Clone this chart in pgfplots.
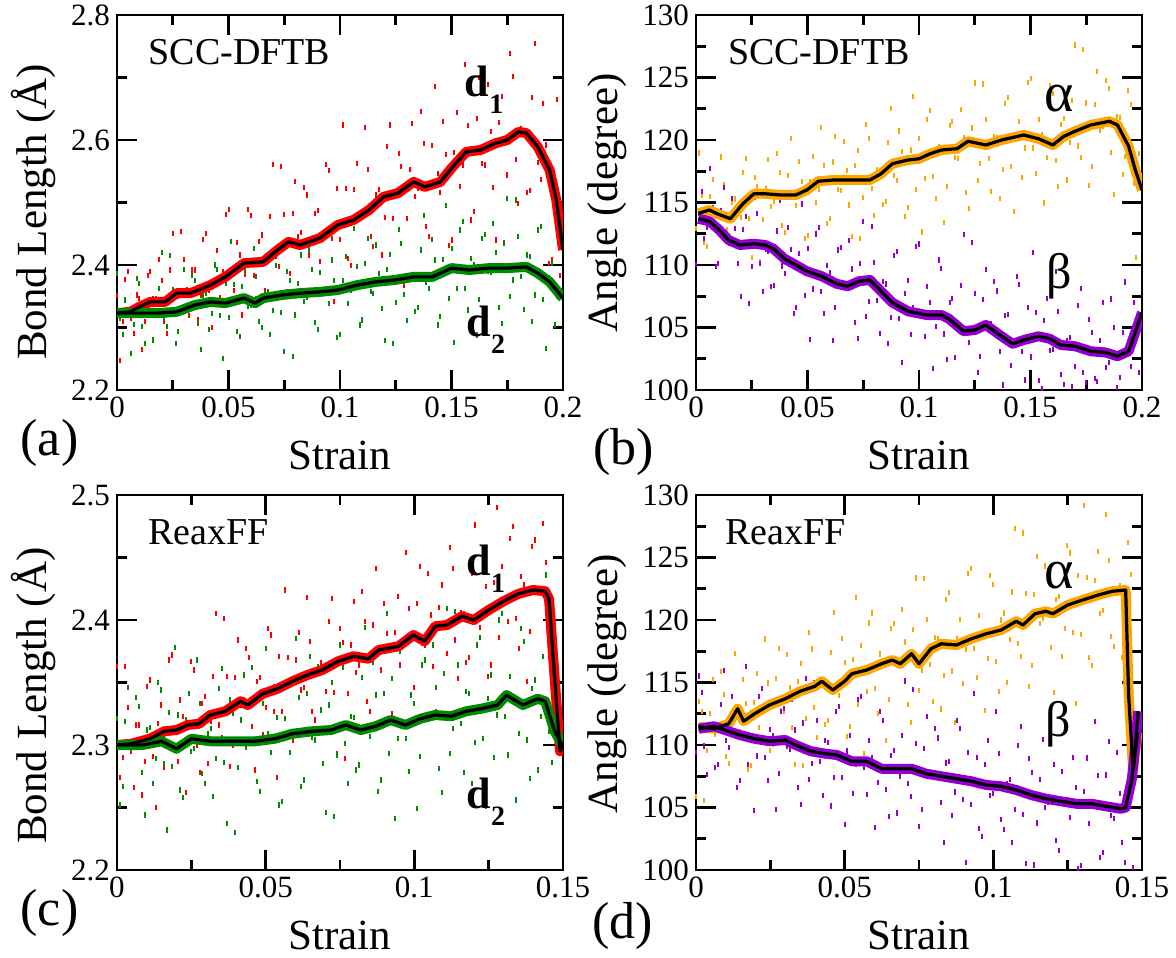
\documentclass[border=0pt]{standalone}
\usepackage{fontspec}
\setmainfont{Liberation Serif}
\usepackage{pgfplots}
\pgfplotsset{compat=1.18}
\definecolor{xred}{RGB}{255,0,0}
\definecolor{xgreen}{RGB}{0,139,0}
\definecolor{xorange}{RGB}{255,165,0}
\definecolor{xviolet}{RGB}{148,0,211}
\newcommand{\dlab}[1]{{\fontsize{22}{22}\selectfont\bfseries d}\raisebox{-8.5pt}{\fontsize{14}{14}\selectfont\bfseries #1}}
\newcommand{\lab}[1]{\fontsize{26}{28}\selectfont (#1)}
\tikzset{txt/.style={inner sep=0pt, anchor=base west}}
\pgfplotsset{
  panel/.style={
    width=223pt, height=187.5pt, scale only axis,
    clip mode=individual,
    axis line style={line width=1.3pt},
    every tick/.style={line width=1.3pt, black},
    major tick length=10pt, minor tick length=5pt,
    tick align=inside,
    scaled ticks=false,
    /pgf/number format/assume math mode=true,
    tick label style={font=\fontsize{15.5}{18}\selectfont},
    label style={font=\fontsize{21.5}{24}\selectfont},
    xlabel={Strain},
    xlabel style={at={(axis description cs:0.5,-0.175)},anchor=center},
  },
  sc/.style={only marks, mark=|, mark size=1.3pt, mark options={line width=1pt}},
  band/.style={no marks, line width=5pt, line join=round},
  avg/.style={no marks, black, line width=1.6pt, line join=round},
}
\begin{document}
\begin{tikzpicture}
\useasboundingbox (0,0) rectangle (588pt,-478.5pt);
% ---------------- (a)
\begin{axis}[panel, at={(58.5pt,-7.5pt)}, anchor=north west,
  xmin=0, xmax=0.2, ymin=2.2, ymax=2.8,
  xtick={0,0.05,0.1,0.15,0.2}, xticklabels={0,0.05,0.1,0.15,0.2},
  minor xtick={0.025,0.075,0.125,0.175},
  ytick={2.2,2.4,2.6,2.8}, yticklabels={2.2,2.4,2.6,2.8},
  minor ytick={2.3,2.5,2.7},
  ylabel={Bond Length (Å)},
  ylabel style={at={(axis description cs:-0.188,0.475)},anchor=center},
]
\addplot[sc, xred] coordinates {
(0,2.351)(0.0025,2.309)(0.005,2.389)(0.0075,2.291)(0.01,2.347)(0.0125,2.309)(0.015,2.390)(0.0175,2.347)(0.02,2.375)(0.0225,2.290)
(0.025,2.450)(0.0275,2.350)(0.03,2.409)(0.0325,2.319)(0.035,2.392)(0.0375,2.352)(0.04,2.450)(0.0425,2.300)(0.045,2.423)(0.0475,2.390)
(0.05,2.489)(0.0525,2.359)(0.055,2.416)(0.0575,2.385)(0.06,2.479)(0.0625,2.347)(0.065,2.448)(0.0675,2.415)(0.07,2.561)(0.0725,2.397)
(0.075,2.481)(0.0775,2.387)(0.08,2.534)(0.0825,2.452)(0.085,2.512)(0.0875,2.355)(0.09,2.487)(0.0925,2.445)(0.095,2.551)(0.0975,2.342)
(0.1,2.441)(0.1025,2.523)(0.105,2.399)(0.1075,2.563)(0.11,2.480)(0.1125,2.553)(0.115,2.430)(0.1175,2.521)(0.12,2.476)(0.1225,2.624)
(0.125,2.377)(0.1275,2.557)(0.13,2.474)(0.1325,2.627)(0.135,2.522)(0.1375,2.595)(0.14,2.446)(0.1425,2.685)(0.145,2.516)(0.1475,2.577)
(0.15,2.440)(0.1525,2.644)(0.155,2.560)(0.1575,2.623)(0.16,2.485)(0.1625,2.700)(0.165,2.560)(0.1675,2.614)(0.17,2.440)(0.1725,2.669)
(0.175,2.544)(0.1775,2.702)(0.18,2.499)(0.1825,2.614)(0.185,2.519)(0.1875,2.754)(0.19,2.537)(0.1925,2.592)(0.195,2.408)(0.1975,2.665)};
\addplot[sc, xred] coordinates {
(0.00125,2.247)(0.00375,2.377)(0.00625,2.315)(0.00875,2.352)(0.01125,2.265)(0.01375,2.383)(0.01625,2.347)(0.01875,2.409)(0.02125,2.309)(0.02375,2.392)
(0.02625,2.328)(0.02875,2.453)(0.03125,2.360)(0.03375,2.392)(0.03625,2.313)(0.03875,2.441)(0.04125,2.360)(0.04375,2.400)(0.04625,2.348)(0.04875,2.481)
(0.05125,2.393)(0.05375,2.436)(0.05625,2.320)(0.05875,2.489)(0.06125,2.383)(0.06375,2.438)(0.06625,2.359)(0.06875,2.477)(0.07125,2.413)(0.07375,2.558)
(0.07625,2.358)(0.07875,2.482)(0.08125,2.445)(0.08375,2.524)(0.08625,2.416)(0.08875,2.482)(0.09125,2.405)(0.09375,2.561)(0.09625,2.442)(0.09875,2.523)
(0.10125,2.624)(0.10375,2.410)(0.10625,2.521)(0.10875,2.475)(0.11125,2.620)(0.11375,2.445)(0.11625,2.512)(0.11875,2.416)(0.12125,2.589)(0.12375,2.475)
(0.12625,2.578)(0.12875,2.368)(0.13125,2.553)(0.13375,2.510)(0.13625,2.645)(0.13875,2.461)(0.14125,2.591)(0.14375,2.546)(0.14625,2.629)(0.14875,2.431)
(0.15125,2.580)(0.15375,2.525)(0.15625,2.721)(0.15875,2.472)(0.16125,2.634)(0.16375,2.562)(0.16625,2.689)(0.16875,2.524)(0.17125,2.628)(0.17375,2.436)
(0.17625,2.739)(0.17875,2.569)(0.18125,2.619)(0.18375,2.516)(0.18625,2.668)(0.18875,2.564)(0.19125,2.658)(0.19375,2.402)(0.19625,2.542)(0.19875,2.383)};
\addplot[sc, xgreen] coordinates {
(0,2.386)(0.0025,2.289)(0.005,2.329)(0.0075,2.305)(0.01,2.370)(0.0125,2.274)(0.015,2.344)(0.0175,2.319)(0.02,2.420)(0.0225,2.302)
(0.025,2.360)(0.0275,2.293)(0.03,2.393)(0.0325,2.335)(0.035,2.375)(0.0375,2.265)(0.04,2.354)(0.0425,2.323)(0.045,2.393)(0.0475,2.251)
(0.05,2.316)(0.0525,2.369)(0.055,2.285)(0.0575,2.392)(0.06,2.336)(0.0625,2.382)(0.065,2.300)(0.0675,2.357)(0.07,2.327)(0.0725,2.421)
(0.075,2.262)(0.0775,2.375)(0.08,2.320)(0.0825,2.416)(0.085,2.348)(0.0875,2.393)(0.09,2.297)(0.0925,2.446)(0.095,2.339)(0.0975,2.375)
(0.1,2.289)(0.1025,2.414)(0.105,2.360)(0.1075,2.398)(0.11,2.312)(0.1125,2.442)(0.115,2.355)(0.1175,2.386)(0.12,2.279)(0.1225,2.417)
(0.125,2.340)(0.1275,2.434)(0.13,2.311)(0.1325,2.381)(0.135,2.332)(0.1375,2.479)(0.14,2.362)(0.1425,2.408)(0.145,2.317)(0.1475,2.495)
(0.15,2.426)(0.1525,2.362)(0.155,2.469)(0.1575,2.328)(0.16,2.400)(0.1625,2.345)(0.165,2.449)(0.1675,2.388)(0.17,2.420)(0.1725,2.306)
(0.175,2.506)(0.1775,2.376)(0.18,2.446)(0.1825,2.329)(0.185,2.413)(0.1875,2.352)(0.19,2.461)(0.1925,2.267)(0.195,2.403)(0.1975,2.349)};
\addplot[sc, xgreen] coordinates {
(0.00125,2.315)(0.00375,2.344)(0.00625,2.258)(0.00875,2.379)(0.01125,2.301)(0.01375,2.338)(0.01625,2.280)(0.01875,2.362)(0.02125,2.315)(0.02375,2.415)
(0.02625,2.274)(0.02875,2.358)(0.03125,2.330)(0.03375,2.383)(0.03625,2.307)(0.03875,2.351)(0.04125,2.297)(0.04375,2.400)(0.04625,2.319)(0.04875,2.371)
(0.05125,2.437)(0.05375,2.293)(0.05625,2.365)(0.05875,2.333)(0.06125,2.427)(0.06375,2.310)(0.06625,2.353)(0.06875,2.289)(0.07125,2.399)(0.07375,2.324)
(0.07625,2.389)(0.07875,2.253)(0.08125,2.370)(0.08375,2.341)(0.08625,2.425)(0.08875,2.308)(0.09125,2.388)(0.09375,2.358)(0.09625,2.408)(0.09875,2.284)
(0.10125,2.375)(0.10375,2.339)(0.10625,2.459)(0.10875,2.304)(0.11125,2.402)(0.11375,2.357)(0.11625,2.432)(0.11875,2.331)(0.12125,2.393)(0.12375,2.275)
(0.12625,2.457)(0.12875,2.353)(0.13125,2.383)(0.13375,2.326)(0.13625,2.424)(0.13875,2.372)(0.14125,2.441)(0.14375,2.304)(0.14625,2.409)(0.14875,2.346)
(0.15125,2.276)(0.15375,2.456)(0.15625,2.363)(0.15875,2.410)(0.16125,2.288)(0.16375,2.443)(0.16625,2.390)(0.16875,2.467)(0.17125,2.332)(0.17375,2.435)
(0.17625,2.350)(0.17875,2.504)(0.18125,2.382)(0.18375,2.416)(0.18625,2.310)(0.18875,2.456)(0.19125,2.345)(0.19375,2.380)(0.19625,2.304)(0.19875,2.446)};
\addplot[band, xred] coordinates {
(0,2.323)(0.006,2.325)(0.010,2.333)(0.015,2.341)(0.0216,2.341)(0.0267,2.355)(0.033,2.355)(0.042,2.368)(0.0486,2.381)(0.057,2.403)
(0.0655,2.405)(0.072,2.424)(0.077,2.437)(0.082,2.432)(0.091,2.443)(0.099,2.464)(0.106,2.472)(0.113,2.488)(0.1195,2.509)(0.126,2.515)
(0.133,2.533)(0.138,2.525)(0.145,2.533)(0.150,2.555)(0.1566,2.581)(0.163,2.584)(0.170,2.595)(0.175,2.600)(0.180,2.613)(0.1836,2.611)
(0.1887,2.589)(0.194,2.552)(0.197,2.504)(0.2,2.424)};
\addplot[band, xgreen] coordinates {
(0,2.323)(0.0064,2.323)(0.018,2.323)(0.0267,2.325)(0.035,2.336)(0.042,2.341)(0.0486,2.339)(0.057,2.347)(0.062,2.339)(0.0655,2.347)
(0.074,2.352)(0.082,2.355)(0.091,2.357)(0.099,2.360)(0.108,2.368)(0.116,2.373)(0.1245,2.376)(0.133,2.381)(0.1414,2.381)(0.150,2.395)
(0.158,2.392)(0.1668,2.395)(0.175,2.395)(0.1836,2.397)(0.1887,2.387)(0.194,2.373)(0.2,2.347)};
\addplot[avg] coordinates {
(0,2.323)(0.006,2.325)(0.010,2.333)(0.015,2.341)(0.0216,2.341)(0.0267,2.355)(0.033,2.355)(0.042,2.368)(0.0486,2.381)(0.057,2.403)
(0.0655,2.405)(0.072,2.424)(0.077,2.437)(0.082,2.432)(0.091,2.443)(0.099,2.464)(0.106,2.472)(0.113,2.488)(0.1195,2.509)(0.126,2.515)
(0.133,2.533)(0.138,2.525)(0.145,2.533)(0.150,2.555)(0.1566,2.581)(0.163,2.584)(0.170,2.595)(0.175,2.600)(0.180,2.613)(0.1836,2.611)
(0.1887,2.589)(0.194,2.552)(0.197,2.504)(0.2,2.424)};
\addplot[avg] coordinates {
(0,2.323)(0.0064,2.323)(0.018,2.323)(0.0267,2.325)(0.035,2.336)(0.042,2.341)(0.0486,2.339)(0.057,2.347)(0.062,2.339)(0.0655,2.347)
(0.074,2.352)(0.082,2.355)(0.091,2.357)(0.099,2.360)(0.108,2.368)(0.116,2.373)(0.1245,2.376)(0.133,2.381)(0.1414,2.381)(0.150,2.395)
(0.158,2.392)(0.1668,2.395)(0.175,2.395)(0.1836,2.397)(0.1887,2.387)(0.194,2.373)(0.2,2.347)};
\node[txt] at (rel axis cs:0.07,0.867) {\fontsize{19}{20}\selectfont SCC-DFTB};
\node[txt] at (axis cs:0.1558,2.669) {\dlab{1}};
\node[txt] at (axis cs:0.1566,2.2853) {\dlab{2}};
\node[inner sep=0pt, anchor=west] at (axis description cs:-0.217,-0.141) {\lab{a}};
\end{axis}
% ---------------- (b)
\begin{axis}[panel, at={(348pt,-7.5pt)}, anchor=north west,
  xmin=0, xmax=0.2, ymin=100, ymax=130,
  xtick={0,0.05,0.1,0.15,0.2}, xticklabels={0,0.05,0.1,0.15,0.2},
  minor xtick={0.025,0.075,0.125,0.175},
  ytick={100,105,110,115,120,125,130}, yticklabels={100,105,110,115,120,125,130},
  minor ytick={102.5,107.5,112.5,117.5,122.5,127.5},
  ylabel={Angle (degree)},
  ylabel style={at={(axis description cs:-0.2,0.499)},anchor=center},
]
\addplot[sc, xorange] coordinates {
(0,112.90)(0.0025,115.60)(0.005,111.45)(0.0075,116.83)(0.01,114.07)(0.0125,116.43)(0.015,112.38)(0.0175,115.28)(0.02,113.80)(0.0225,118.54)
(0.025,110.58)(0.0275,116.31)(0.03,113.61)(0.0325,118.45)(0.035,115.09)(0.0375,117.37)(0.04,112.63)(0.0425,120.12)(0.045,114.79)(0.0475,116.66)
(0.05,112.38)(0.0525,118.67)(0.055,116.05)(0.0575,117.97)(0.06,113.71)(0.0625,120.26)(0.065,115.96)(0.0675,117.57)(0.07,112.26)(0.0725,119.18)
(0.075,115.37)(0.0775,120.11)(0.08,113.98)(0.0825,117.56)(0.085,115.11)(0.0875,122.50)(0.09,116.74)(0.0925,119.05)(0.095,114.57)(0.0975,123.48)
(0.1,120.10)(0.1025,116.94)(0.105,122.33)(0.1075,115.34)(0.11,118.99)(0.1125,116.27)(0.115,121.50)(0.1175,118.51)(0.12,120.16)(0.1225,114.51)
(0.125,124.56)(0.1275,118.09)(0.13,121.63)(0.1325,115.87)(0.135,120.23)(0.1375,117.64)(0.14,123.40)(0.1425,114.29)(0.145,121.45)(0.1475,119.36)
(0.15,124.95)(0.1525,117.33)(0.155,120.47)(0.1575,118.61)(0.16,123.74)(0.1625,116.26)(0.165,121.70)(0.1675,119.81)(0.17,127.60)(0.1725,118.57)
(0.175,122.96)(0.1775,117.87)(0.18,125.49)(0.1825,121.09)(0.185,124.11)(0.1875,115.61)(0.19,121.83)(0.1925,118.67)(0.195,122.86)(0.1975,110.62)};
\addplot[sc, xorange] coordinates {
(0.00125,118.96)(0.00375,111.82)(0.00625,115.45)(0.00875,113.91)(0.01125,118.64)(0.01375,112.86)(0.01625,115.02)(0.01875,111.87)(0.02125,117.43)(0.02375,113.72)
(0.02625,117.00)(0.02875,110.24)(0.03125,116.14)(0.03375,114.71)(0.03625,118.95)(0.03875,113.14)(0.04125,117.19)(0.04375,115.74)(0.04625,118.29)(0.04875,112.11)
(0.05125,116.70)(0.05375,114.98)(0.05625,121.00)(0.05875,113.32)(0.06125,118.24)(0.06375,116.02)(0.06625,119.85)(0.06875,114.80)(0.07125,117.95)(0.07375,112.13)
(0.07625,121.25)(0.07875,116.09)(0.08125,117.63)(0.08375,114.82)(0.08625,119.77)(0.08875,117.18)(0.09125,120.72)(0.09375,113.91)(0.09625,119.20)(0.09875,116.05)
(0.10125,112.64)(0.10375,121.64)(0.10625,117.07)(0.10875,119.45)(0.11125,113.42)(0.11375,121.19)(0.11625,118.59)(0.11875,122.44)(0.12125,115.78)(0.12375,120.96)
(0.12625,116.73)(0.12875,124.48)(0.13125,118.49)(0.13375,120.31)(0.13625,115.32)(0.13875,122.94)(0.14125,117.91)(0.14375,120.17)(0.14625,116.99)(0.14875,124.61)
(0.15125,119.36)(0.15375,121.66)(0.15625,114.96)(0.15875,124.38)(0.16125,118.33)(0.16375,121.22)(0.16625,116.80)(0.16875,123.13)(0.17125,119.52)(0.17375,127.21)
(0.17625,116.39)(0.17875,122.83)(0.18125,120.75)(0.18375,124.78)(0.18625,119.00)(0.18875,121.88)(0.19125,117.25)(0.19375,123.95)(0.19625,116.51)(0.19875,118.90)};
\addplot[sc, xviolet] coordinates {
(0,110.06)(0.0025,115.90)(0.005,113.03)(0.0075,114.59)(0.01,110.12)(0.0125,116.19)(0.015,111.69)(0.0175,112.94)(0.02,107.48)(0.0225,113.88)
(0.025,109.88)(0.0275,114.15)(0.03,107.91)(0.0325,111.06)(0.035,108.38)(0.0375,115.20)(0.04,109.34)(0.0425,111.25)(0.045,106.63)(0.0475,114.88)
(0.05,111.32)(0.0525,108.08)(0.055,113.03)(0.0575,106.12)(0.06,109.41)(0.0625,106.60)(0.065,111.39)(0.0675,108.31)(0.07,109.68)(0.0725,104.09)
(0.075,113.45)(0.0775,107.08)(0.08,110.23)(0.0825,104.55)(0.085,108.48)(0.0875,105.82)(0.09,111.06)(0.0925,102.22)(0.095,108.79)(0.0975,106.60)
(0.1,111.68)(0.1025,104.27)(0.105,107.02)(0.1075,105.06)(0.11,109.69)(0.1125,102.43)(0.115,107.34)(0.1175,105.36)(0.12,112.47)(0.1225,103.77)
(0.125,107.69)(0.1275,102.70)(0.13,109.64)(0.1325,105.30)(0.135,107.92)(0.1375,100.40)(0.14,106.05)(0.1425,103.71)(0.145,108.45)(0.1475,100.80)
(0.15,102.64)(0.1525,106.17)(0.155,100.13)(0.1575,107.35)(0.16,103.27)(0.1625,106.28)(0.165,100.45)(0.1675,104.19)(0.17,101.91)(0.1725,108.14)
(0.175,100.60)(0.1775,104.59)(0.18,100.68)(0.1825,106.99)(0.185,102.19)(0.1875,105.01)(0.19,101.00)(0.1925,108.64)(0.195,101.86)(0.1975,105.25)};
\addplot[sc, xviolet] coordinates {
(0.00125,114.13)(0.00375,112.14)(0.00625,117.70)(0.00875,109.90)(0.01125,114.38)(0.01375,111.91)(0.01625,115.31)(0.01875,110.10)(0.02125,112.84)(0.02375,106.89)
(0.02625,115.41)(0.02875,110.11)(0.03125,111.28)(0.03375,108.26)(0.03625,112.72)(0.03875,109.92)(0.04125,113.01)(0.04375,106.15)(0.04625,110.92)(0.04875,107.59)
(0.05125,104.05)(0.05375,112.48)(0.05625,107.89)(0.05875,109.95)(0.06125,103.97)(0.06375,111.20)(0.06625,108.50)(0.06875,111.97)(0.07125,105.40)(0.07375,110.13)
(0.07625,105.89)(0.07875,113.05)(0.08125,107.14)(0.08375,108.67)(0.08625,103.72)(0.08875,110.73)(0.09125,105.75)(0.09375,107.69)(0.09625,104.47)(0.09875,111.47)
(0.10125,106.29)(0.10375,108.26)(0.10625,101.71)(0.10875,110.40)(0.11125,104.48)(0.11375,107.00)(0.11625,102.62)(0.11875,108.37)(0.12125,104.77)(0.12375,111.79)
(0.12625,101.41)(0.12875,107.25)(0.13125,105.09)(0.13375,108.66)(0.13625,103.06)(0.13875,105.97)(0.14125,101.98)(0.14375,109.06)(0.14625,103.11)(0.14875,106.62)
(0.15125,110.99)(0.15375,100.76)(0.15625,105.57)(0.15875,103.19)(0.16125,109.47)(0.16375,101.23)(0.16625,103.96)(0.16875,100.30)(0.17125,106.75)(0.17375,101.43)
(0.17625,105.66)(0.17875,100.90)(0.18125,103.98)(0.18375,101.81)(0.18625,107.28)(0.18875,100.20)(0.19125,104.58)(0.19375,102.90)(0.19625,106.99)(0.19875,101.40)};
\addplot[band, xorange] coordinates {
(0.001,114.13)(0.006,114.4)(0.0095,114.1)(0.0154,113.7)(0.021,114.9)(0.026,115.7)(0.031,115.7)(0.038,115.6)(0.0447,115.6)(0.0497,116.0)
(0.0548,116.7)(0.0615,116.8)(0.070,116.8)(0.078,116.8)(0.083,117.3)(0.088,118.1)(0.095,118.4)(0.100,118.5)(0.105,118.9)(0.110,119.2)
(0.117,119.3)(0.122,119.9)(0.130,119.6)(0.137,120.0)(0.147,120.4)(0.1536,120.1)(0.160,119.6)(0.165,120.3)(0.170,120.7)(0.177,121.2)
(0.1854,121.5)(0.189,121.2)(0.194,119.5)(0.197,117.6)(0.2,116.0)};
\addplot[band, xviolet] coordinates {
(0.001,113.7)(0.006,113.5)(0.0104,112.8)(0.0146,112.0)(0.0196,111.6)(0.026,111.7)(0.031,111.6)(0.0347,111.3)(0.0397,110.5)(0.0447,110.0)
(0.0497,109.5)(0.0564,109.1)(0.063,108.5)(0.068,108.3)(0.073,108.7)(0.078,108.8)(0.083,107.9)(0.088,107.0)(0.095,106.3)(0.1034,106.0)
(0.110,106.0)(0.1134,105.7)(0.120,104.7)(0.125,104.8)(0.130,105.2)(0.137,104.3)(0.142,103.7)(0.147,104.0)(0.1536,104.3)(0.1586,104.1)
(0.1636,103.6)(0.170,103.5)(0.177,103.1)(0.1837,103.0)(0.189,102.7)(0.194,103.1)(0.2,106.2)};
\addplot[avg] coordinates {
(0.001,114.13)(0.006,114.4)(0.0095,114.1)(0.0154,113.7)(0.021,114.9)(0.026,115.7)(0.031,115.7)(0.038,115.6)(0.0447,115.6)(0.0497,116.0)
(0.0548,116.7)(0.0615,116.8)(0.070,116.8)(0.078,116.8)(0.083,117.3)(0.088,118.1)(0.095,118.4)(0.100,118.5)(0.105,118.9)(0.110,119.2)
(0.117,119.3)(0.122,119.9)(0.130,119.6)(0.137,120.0)(0.147,120.4)(0.1536,120.1)(0.160,119.6)(0.165,120.3)(0.170,120.7)(0.177,121.2)
(0.1854,121.5)(0.189,121.2)(0.194,119.5)(0.197,117.6)(0.2,116.0)};
\addplot[avg] coordinates {
(0.001,113.7)(0.006,113.5)(0.0104,112.8)(0.0146,112.0)(0.0196,111.6)(0.026,111.7)(0.031,111.6)(0.0347,111.3)(0.0397,110.5)(0.0447,110.0)
(0.0497,109.5)(0.0564,109.1)(0.063,108.5)(0.068,108.3)(0.073,108.7)(0.078,108.8)(0.083,107.9)(0.088,107.0)(0.095,106.3)(0.1034,106.0)
(0.110,106.0)(0.1134,105.7)(0.120,104.7)(0.125,104.8)(0.130,105.2)(0.137,104.3)(0.142,103.7)(0.147,104.0)(0.1536,104.3)(0.1586,104.1)
(0.1636,103.6)(0.170,103.5)(0.177,103.1)(0.1837,103.0)(0.189,102.7)(0.194,103.1)(0.2,106.2)};
\node[txt] at (rel axis cs:0.071,0.867) {\fontsize{19}{20}\selectfont SCC-DFTB};
\node[txt] at (axis cs:0.1561,122.27) {\fontsize{28}{28}\selectfont α};
\node[txt] at (axis cs:0.1568,108.1) {\fontsize{25}{25}\selectfont β};
\node[inner sep=0pt, anchor=west] at (axis description cs:-0.231,-0.165) {\lab{b}};
\end{axis}
% ---------------- (c)
\begin{axis}[panel, at={(58.5pt,-247.5pt)}, anchor=north west,
  xmin=0, xmax=0.15, ymin=2.2, ymax=2.5,
  xtick={0,0.05,0.1,0.15}, xticklabels={0,0.05,0.1,0.15},
  minor xtick={0.025,0.075,0.125},
  ytick={2.2,2.3,2.4,2.5}, yticklabels={2.2,2.3,2.4,2.5},
  minor ytick={2.25,2.35,2.45},
  ylabel={Bond Length (Å)},
  ylabel style={at={(axis description cs:-0.188,0.465)},anchor=center},
]
\addplot[sc, xred] coordinates {
(0,2.363)(0.00185,2.290)(0.0037,2.330)(0.00555,2.266)(0.0074,2.316)(0.00925,2.287)(0.0111,2.352)(0.01295,2.250)(0.0148,2.332)(0.01665,2.309)
(0.0185,2.372)(0.02035,2.287)(0.0222,2.323)(0.02405,2.303)(0.0259,2.360)(0.02775,2.278)(0.0296,2.339)(0.03145,2.319)(0.0333,2.405)(0.03515,2.306)
(0.037,2.355)(0.03885,2.300)(0.0407,2.384)(0.04255,2.336)(0.0444,2.370)(0.04625,2.280)(0.0481,2.354)(0.04995,2.330)(0.0518,2.388)(0.05365,2.274)
(0.0555,2.327)(0.05735,2.370)(0.0592,2.304)(0.06105,2.390)(0.0629,2.346)(0.06475,2.383)(0.0666,2.320)(0.06845,2.366)(0.0703,2.343)(0.07215,2.417)
(0.074,2.293)(0.07585,2.382)(0.0777,2.341)(0.07955,2.415)(0.0814,2.364)(0.08325,2.399)(0.0851,2.327)(0.08695,2.441)(0.0888,2.360)(0.09065,2.389)
(0.0925,2.325)(0.09435,2.419)(0.0962,2.380)(0.09805,2.409)(0.0999,2.346)(0.10175,2.443)(0.1036,2.380)(0.10545,2.404)(0.1073,2.327)(0.10915,2.428)
(0.111,2.373)(0.11285,2.441)(0.1147,2.353)(0.11655,2.405)(0.1184,2.370)(0.12025,2.476)(0.1221,2.394)(0.12395,2.427)(0.1258,2.364)(0.12765,2.490)
(0.1295,2.443)(0.13135,2.399)(0.1332,2.475)(0.13505,2.377)(0.1369,2.428)(0.13875,2.391)(0.1406,2.464)(0.14245,2.423)(0.1443,2.446)(0.14615,2.349)};
\addplot[sc, xred] coordinates {
(0.0009,2.274)(0.0028,2.363)(0.0046,2.295)(0.0065,2.316)(0.0083,2.260)(0.0102,2.347)(0.0120,2.291)(0.0139,2.317)(0.0157,2.282)(0.0176,2.368)
(0.0194,2.310)(0.0213,2.336)(0.0231,2.262)(0.0250,2.367)(0.0268,2.300)(0.0287,2.333)(0.0305,2.285)(0.0324,2.355)(0.0342,2.316)(0.0361,2.401)
(0.0379,2.283)(0.0398,2.354)(0.0416,2.332)(0.0435,2.377)(0.0453,2.315)(0.0472,2.351)(0.0490,2.308)(0.0509,2.393)(0.0527,2.327)(0.0546,2.371)
(0.0564,2.424)(0.0583,2.310)(0.0601,2.368)(0.0620,2.344)(0.0638,2.418)(0.0657,2.327)(0.0675,2.361)(0.0694,2.312)(0.0712,2.399)(0.0731,2.342)
(0.0749,2.393)(0.0768,2.289)(0.0786,2.380)(0.0805,2.358)(0.0823,2.423)(0.0842,2.335)(0.0860,2.396)(0.0879,2.375)(0.0897,2.413)(0.0916,2.320)
(0.0934,2.390)(0.0953,2.364)(0.0971,2.454)(0.0990,2.340)(0.1008,2.413)(0.1027,2.381)(0.1045,2.437)(0.1064,2.363)(0.1082,2.410)(0.1101,2.325)
(0.1119,2.458)(0.1138,2.384)(0.1156,2.406)(0.1175,2.366)(0.1193,2.437)(0.1212,2.400)(0.1230,2.451)(0.1249,2.355)(0.1267,2.430)(0.1286,2.386)
(0.1304,2.338)(0.1323,2.465)(0.1341,2.401)(0.1360,2.435)(0.1378,2.351)(0.1397,2.459)(0.1415,2.424)(0.1434,2.477)(0.1452,2.377)(0.1471,2.397)};
\addplot[sc, xgreen] coordinates {
(0,2.321)(0.00185,2.267)(0.0037,2.346)(0.00555,2.300)(0.0074,2.331)(0.00925,2.244)(0.0111,2.314)(0.01295,2.289)(0.0148,2.344)(0.01665,2.232)
(0.0185,2.283)(0.02035,2.324)(0.0222,2.258)(0.02405,2.341)(0.0259,2.297)(0.02775,2.333)(0.0296,2.269)(0.03145,2.313)(0.0333,2.289)(0.03515,2.361)
(0.037,2.237)(0.03885,2.325)(0.0407,2.282)(0.04255,2.356)(0.0444,2.303)(0.04625,2.337)(0.0481,2.263)(0.04995,2.377)(0.0518,2.294)(0.05365,2.322)
(0.0555,2.255)(0.05735,2.351)(0.0592,2.310)(0.06105,2.338)(0.0629,2.272)(0.06475,2.371)(0.0666,2.304)(0.06845,2.328)(0.0703,2.246)(0.07215,2.350)
(0.074,2.292)(0.07585,2.362)(0.0777,2.269)(0.07955,2.322)(0.0814,2.284)(0.08325,2.394)(0.0851,2.307)(0.08695,2.340)(0.0888,2.272)(0.09065,2.405)
(0.0925,2.353)(0.09435,2.305)(0.0962,2.384)(0.09805,2.279)(0.0999,2.333)(0.10175,2.291)(0.1036,2.368)(0.10545,2.323)(0.1073,2.346)(0.10915,2.262)
(0.111,2.409)(0.11285,2.313)(0.1147,2.364)(0.11655,2.278)(0.1184,2.341)(0.12025,2.302)(0.1221,2.386)(0.12395,2.251)(0.1258,2.356)(0.12765,2.324)
(0.1295,2.405)(0.13135,2.292)(0.1332,2.337)(0.13505,2.309)(0.1369,2.383)(0.13875,2.273)(0.1406,2.352)(0.14245,2.323)(0.1443,2.436)(0.14615,2.286)};
\addplot[sc, xgreen] coordinates {
(0.0009,2.252)(0.0028,2.319)(0.0046,2.297)(0.0065,2.338)(0.0083,2.278)(0.0102,2.312)(0.0120,2.269)(0.0139,2.350)(0.0157,2.285)(0.0176,2.326)
(0.0194,2.378)(0.0213,2.264)(0.0231,2.320)(0.0250,2.295)(0.0268,2.368)(0.0287,2.277)(0.0305,2.309)(0.0324,2.259)(0.0342,2.345)(0.0361,2.286)
(0.0379,2.336)(0.0398,2.230)(0.0416,2.320)(0.0435,2.298)(0.0453,2.362)(0.0472,2.271)(0.0490,2.333)(0.0509,2.309)(0.0527,2.347)(0.0546,2.252)
(0.0564,2.321)(0.0583,2.294)(0.0601,2.385)(0.0620,2.267)(0.0638,2.341)(0.0657,2.306)(0.0675,2.363)(0.0694,2.285)(0.0712,2.332)(0.0731,2.243)
(0.0749,2.380)(0.0768,2.301)(0.0786,2.323)(0.0805,2.280)(0.0823,2.354)(0.0842,2.314)(0.0860,2.366)(0.0879,2.263)(0.0897,2.341)(0.0916,2.293)
(0.0934,2.241)(0.0953,2.375)(0.0971,2.305)(0.0990,2.340)(0.1008,2.249)(0.1027,2.364)(0.1045,2.324)(0.1064,2.380)(0.1082,2.281)(0.1101,2.357)
(0.1119,2.293)(0.1138,2.407)(0.1156,2.317)(0.1175,2.343)(0.1193,2.269)(0.1212,2.380)(0.1230,2.305)(0.1249,2.337)(0.1267,2.290)(0.1286,2.400)
(0.1304,2.323)(0.1323,2.355)(0.1341,2.256)(0.1360,2.393)(0.1378,2.304)(0.1397,2.345)(0.1415,2.280)(0.1434,2.371)(0.1452,2.311)(0.1471,2.402)};
\addplot[band, xred] coordinates {
(0,2.300)(0.0048,2.301)(0.011,2.305)(0.016,2.311)(0.020,2.312)(0.0238,2.316)(0.0276,2.317)(0.0314,2.324)(0.0365,2.327)(0.0415,2.335)
(0.044,2.332)(0.049,2.341)(0.054,2.345)(0.059,2.351)(0.064,2.356)(0.069,2.360)(0.0744,2.367)(0.0795,2.371)(0.0846,2.369)(0.088,2.376)
(0.0947,2.379)(0.0997,2.388)(0.1035,2.383)(0.107,2.395)(0.111,2.396)(0.116,2.403)(0.120,2.400)(0.125,2.408)(0.130,2.415)(0.135,2.421)
(0.140,2.424)(0.144,2.423)(0.1453,2.417)(0.1472,2.353)(0.149,2.295)(0.15,2.300)};
\addplot[band, xgreen] coordinates {
(0,2.300)(0.0086,2.300)(0.015,2.303)(0.020,2.297)(0.025,2.305)(0.0314,2.303)(0.039,2.303)(0.0466,2.303)(0.053,2.305)(0.059,2.309)
(0.0656,2.311)(0.072,2.312)(0.077,2.316)(0.082,2.312)(0.087,2.315)(0.092,2.320)(0.097,2.316)(0.102,2.321)(0.107,2.324)(0.1124,2.323)
(0.1175,2.327)(0.1225,2.329)(0.128,2.332)(0.131,2.340)(0.1365,2.332)(0.1415,2.337)(0.144,2.335)(0.1472,2.311)(0.15,2.299)};
\addplot[avg] coordinates {
(0,2.300)(0.0048,2.301)(0.011,2.305)(0.016,2.311)(0.020,2.312)(0.0238,2.316)(0.0276,2.317)(0.0314,2.324)(0.0365,2.327)(0.0415,2.335)
(0.044,2.332)(0.049,2.341)(0.054,2.345)(0.059,2.351)(0.064,2.356)(0.069,2.360)(0.0744,2.367)(0.0795,2.371)(0.0846,2.369)(0.088,2.376)
(0.0947,2.379)(0.0997,2.388)(0.1035,2.383)(0.107,2.395)(0.111,2.396)(0.116,2.403)(0.120,2.400)(0.125,2.408)(0.130,2.415)(0.135,2.421)
(0.140,2.424)(0.144,2.423)(0.1453,2.417)(0.1472,2.353)(0.149,2.295)(0.15,2.300)};
\addplot[avg] coordinates {
(0,2.300)(0.0086,2.300)(0.015,2.303)(0.020,2.297)(0.025,2.305)(0.0314,2.303)(0.039,2.303)(0.0466,2.303)(0.053,2.305)(0.059,2.309)
(0.0656,2.311)(0.072,2.312)(0.077,2.316)(0.082,2.312)(0.087,2.315)(0.092,2.320)(0.097,2.316)(0.102,2.321)(0.107,2.324)(0.1124,2.323)
(0.1175,2.327)(0.1225,2.329)(0.128,2.332)(0.131,2.340)(0.1365,2.332)(0.1415,2.337)(0.144,2.335)(0.1472,2.311)(0.15,2.299)};
\node[txt] at (rel axis cs:0.07,0.867) {\fontsize{19}{20}\selectfont ReaxFF};
\node[txt] at (axis cs:0.1175,2.436) {\dlab{1}};
\node[txt] at (axis cs:0.1175,2.2493) {\dlab{2}};
\node[inner sep=0pt, anchor=west] at (axis description cs:-0.217,-0.115) {\lab{c}};
\end{axis}
% ---------------- (d)
\begin{axis}[panel, at={(348pt,-247.5pt)}, anchor=north west,
  xmin=0, xmax=0.15, ymin=100, ymax=130,
  xtick={0,0.05,0.1,0.15}, xticklabels={0,0.05,0.1,0.15},
  minor xtick={0.025,0.075,0.125},
  ytick={100,105,110,115,120,125,130}, yticklabels={100,105,110,115,120,125,130},
  minor ytick={102.5,107.5,112.5,117.5,122.5,127.5},
  ylabel={Angle (degree)},
  ylabel style={at={(axis description cs:-0.2,0.496)},anchor=center},
]
\addplot[sc, xorange] coordinates {
(0,105.90)(0.00185,112.67)(0.0037,109.53)(0.00555,115.25)(0.0074,111.32)(0.00925,114.02)(0.0111,108.50)(0.01295,117.30)(0.0148,111.09)(0.01665,113.32)
(0.0185,108.34)(0.02035,115.72)(0.0222,112.69)(0.02405,114.96)(0.0259,110.02)(0.02775,117.69)(0.0296,112.70)(0.03145,114.61)(0.0333,108.46)(0.03515,116.54)
(0.037,112.14)(0.03885,117.68)(0.0407,110.59)(0.04255,114.77)(0.0444,111.96)(0.04625,120.57)(0.0481,113.93)(0.04995,116.63)(0.0518,111.47)(0.05365,121.81)
(0.0555,117.93)(0.05735,114.31)(0.0592,120.56)(0.06105,112.53)(0.0629,116.77)(0.06475,113.66)(0.0666,119.72)(0.06845,116.30)(0.0703,118.24)(0.07215,111.77)
(0.074,123.36)(0.07585,115.95)(0.0777,120.05)(0.07955,113.48)(0.0814,118.51)(0.08325,115.57)(0.0851,122.20)(0.08695,111.79)(0.0888,120.02)(0.09065,117.66)
(0.0925,124.10)(0.09435,115.41)(0.0962,119.03)(0.09805,116.94)(0.0999,122.83)(0.10175,114.31)(0.1036,120.56)(0.10545,118.44)(0.1073,127.35)(0.10915,117.09)
(0.111,122.13)(0.11285,116.36)(0.1147,125.07)(0.11655,120.09)(0.1184,123.56)(0.12025,114.19)(0.1221,121.85)(0.12395,119.30)(0.1258,125.36)(0.12765,113.29)
(0.1295,118.86)(0.13135,123.43)(0.1332,116.37)(0.13505,125.45)(0.1369,120.76)(0.13875,124.73)(0.1406,117.91)(0.14245,122.75)(0.1443,120.26)(0.14615,123.63)};
\addplot[sc, xorange] coordinates {
(0.0009,113.48)(0.0028,105.56)(0.0046,112.51)(0.0065,110.87)(0.0083,115.87)(0.0102,109.09)(0.0120,113.86)(0.0139,112.19)(0.0157,115.21)(0.0176,108.02)
(0.0194,113.41)(0.0213,111.43)(0.0231,118.48)(0.0250,109.55)(0.0268,115.32)(0.0287,112.77)(0.0305,117.25)(0.0324,111.41)(0.0342,115.10)(0.0361,108.36)
(0.0379,118.98)(0.0398,113.03)(0.0416,114.84)(0.0435,111.62)(0.0453,117.38)(0.0472,114.41)(0.0490,118.53)(0.0509,110.70)(0.0527,116.84)(0.0546,113.24)
(0.0564,109.32)(0.0583,119.76)(0.0601,114.51)(0.0620,117.28)(0.0638,110.36)(0.0657,119.35)(0.0675,116.38)(0.0694,120.85)(0.0712,113.21)(0.0731,119.21)
(0.0749,114.37)(0.0768,123.31)(0.0786,116.45)(0.0805,118.58)(0.0823,112.88)(0.0842,121.65)(0.0860,115.92)(0.0879,118.55)(0.0897,114.94)(0.0916,123.70)
(0.0934,117.71)(0.0953,120.38)(0.0971,112.74)(0.0990,123.55)(0.1008,116.66)(0.1027,120.00)(0.1045,114.98)(0.1064,122.24)(0.1082,118.15)(0.1101,126.96)
(0.1119,114.65)(0.1138,122.03)(0.1156,119.69)(0.1175,124.32)(0.1193,117.80)(0.1212,121.61)(0.1230,117.05)(0.1249,125.95)(0.1267,119.00)(0.1286,123.55)
(0.1304,129.16)(0.1323,116.99)(0.1341,123.14)(0.1360,120.52)(0.1378,128.45)(0.1397,118.71)(0.1415,122.32)(0.1434,117.03)(0.1452,126.17)(0.1471,111.53)};
\addplot[sc, xviolet] coordinates {
(0,109.43)(0.00185,114.23)(0.0037,107.61)(0.00555,111.19)(0.0074,108.44)(0.00925,115.99)(0.0111,109.80)(0.01295,112.02)(0.0148,107.19)(0.01665,116.26)
(0.0185,112.57)(0.02035,109.12)(0.0222,114.53)(0.02405,107.13)(0.0259,110.72)(0.02775,107.74)(0.0296,112.94)(0.03145,109.68)(0.0333,111.20)(0.03515,105.24)
(0.037,115.35)(0.03885,108.55)(0.0407,111.98)(0.04255,105.94)(0.0444,110.21)(0.04625,107.40)(0.0481,113.07)(0.04995,103.65)(0.0518,110.73)(0.05365,108.44)
(0.0555,113.91)(0.05735,106.04)(0.0592,109.03)(0.06105,106.99)(0.0629,111.98)(0.06475,104.28)(0.0666,109.57)(0.06845,107.51)(0.0703,115.12)(0.07215,105.91)
(0.074,110.13)(0.07585,104.87)(0.0777,112.29)(0.07955,107.74)(0.0814,110.56)(0.08325,102.18)(0.0851,108.66)(0.08695,106.24)(0.0888,111.31)(0.09065,100.61)
(0.0925,105.25)(0.09435,109.02)(0.0962,102.69)(0.09805,110.37)(0.0999,106.10)(0.10175,109.33)(0.1036,103.23)(0.10545,107.22)(0.1073,104.87)(0.10915,111.48)
(0.111,100.50)(0.11285,107.83)(0.1147,103.76)(0.11655,110.45)(0.1184,105.44)(0.12025,108.46)(0.1221,101.54)(0.12395,111.90)(0.1258,104.17)(0.12765,106.59)
(0.1295,100.38)(0.13135,108.96)(0.1332,105.09)(0.13505,107.55)(0.1369,101.43)(0.13875,110.28)(0.1406,104.13)(0.14245,106.13)(0.1443,100.60)(0.14615,108.91)};
\addplot[sc, xviolet] coordinates {
(0.0009,115.52)(0.0028,109.92)(0.0046,111.35)(0.0065,108.23)(0.0083,113.23)(0.0102,110.35)(0.0120,113.85)(0.0139,106.59)(0.0157,111.91)(0.0176,108.47)
(0.0194,104.75)(0.0213,113.90)(0.0231,108.99)(0.0250,111.27)(0.0268,104.87)(0.0287,112.70)(0.0305,109.86)(0.0324,113.64)(0.0342,106.62)(0.0361,111.76)
(0.0379,107.25)(0.0398,114.99)(0.0416,108.70)(0.0435,110.38)(0.0453,105.12)(0.0472,112.69)(0.0490,107.41)(0.0509,109.52)(0.0527,106.13)(0.0546,113.66)
(0.0564,108.17)(0.0583,110.33)(0.0601,103.39)(0.0620,112.70)(0.0638,106.44)(0.0657,109.18)(0.0675,104.56)(0.0694,110.73)(0.0712,106.94)(0.0731,114.45)
(0.0749,103.47)(0.0768,109.72)(0.0786,107.48)(0.0805,111.31)(0.0823,105.43)(0.0842,108.56)(0.0860,104.38)(0.0879,111.93)(0.0897,105.67)(0.0916,109.43)
(0.0934,114.10)(0.0953,103.33)(0.0971,108.46)(0.0990,105.99)(0.1008,112.67)(0.1027,104.02)(0.1045,106.95)(0.1064,102.17)(0.1082,109.99)(0.1101,104.43)
(0.1119,108.93)(0.1138,100.40)(0.1156,107.24)(0.1175,105.00)(0.1193,110.81)(0.1212,102.35)(0.1230,107.87)(0.1249,105.61)(0.1267,108.97)(0.1286,100.10)
(0.1304,106.31)(0.1323,103.70)(0.1341,111.87)(0.1360,101.00)(0.1378,107.60)(0.1397,104.33)(0.1415,109.38)(0.1434,102.23)(0.1452,106.34)(0.1471,100.20)};
\addplot[band, xorange] coordinates {
(0.0009,111.47)(0.006,111.3)(0.011,111.7)(0.014,112.9)(0.016,111.9)(0.0197,112.5)(0.0247,113.2)(0.030,113.7)(0.035,114.3)(0.040,114.7)
(0.0423,115.1)(0.046,114.4)(0.050,115.1)(0.0524,115.7)(0.0574,116.0)(0.0624,116.5)(0.066,116.8)(0.0687,116.5)(0.0725,117.3)(0.075,116.5)
(0.079,117.7)(0.0825,118.1)(0.0876,118.0)(0.0926,118.5)(0.0976,118.9)(0.1026,119.2)(0.1077,119.9)(0.110,119.6)(0.114,120.5)(0.1177,120.7)
(0.120,120.5)(0.125,121.2)(0.130,121.6)(0.1353,122.0)(0.140,122.3)(0.1445,122.4)(0.1455,114.0)(0.147,108.0)(0.1485,111.0)};
\addplot[band, xviolet] coordinates {
(0.0009,111.3)(0.006,111.5)(0.011,111.1)(0.0147,110.8)(0.0197,110.5)(0.0247,110.3)(0.030,110.4)(0.0335,110.0)(0.0386,109.5)(0.0436,109.3)
(0.0474,109.2)(0.0524,108.7)(0.0574,108.7)(0.0624,108.1)(0.0675,108.1)(0.0725,108.1)(0.0775,107.7)(0.0825,107.5)(0.0876,107.3)(0.0926,107.1)
(0.0976,106.8)(0.1026,106.7)(0.1077,106.4)(0.1127,106.0)(0.1177,105.7)(0.1227,105.5)(0.1278,105.3)(0.133,105.3)(0.1378,105.1)(0.1428,104.9)
(0.1445,105.0)(0.1466,107.3)(0.1479,110.3)(0.1487,112.7)};
\addplot[avg] coordinates {
(0.0009,111.47)(0.006,111.3)(0.011,111.7)(0.014,112.9)(0.016,111.9)(0.0197,112.5)(0.0247,113.2)(0.030,113.7)(0.035,114.3)(0.040,114.7)
(0.0423,115.1)(0.046,114.4)(0.050,115.1)(0.0524,115.7)(0.0574,116.0)(0.0624,116.5)(0.066,116.8)(0.0687,116.5)(0.0725,117.3)(0.075,116.5)
(0.079,117.7)(0.0825,118.1)(0.0876,118.0)(0.0926,118.5)(0.0976,118.9)(0.1026,119.2)(0.1077,119.9)(0.110,119.6)(0.114,120.5)(0.1177,120.7)
(0.120,120.5)(0.125,121.2)(0.130,121.6)(0.1353,122.0)(0.140,122.3)(0.1445,122.4)(0.1455,114.0)(0.147,108.0)(0.1485,111.0)};
\addplot[avg] coordinates {
(0.0009,111.3)(0.006,111.5)(0.011,111.1)(0.0147,110.8)(0.0197,110.5)(0.0247,110.3)(0.030,110.4)(0.0335,110.0)(0.0386,109.5)(0.0436,109.3)
(0.0474,109.2)(0.0524,108.7)(0.0574,108.7)(0.0624,108.1)(0.0675,108.1)(0.0725,108.1)(0.0775,107.7)(0.0825,107.5)(0.0876,107.3)(0.0926,107.1)
(0.0976,106.8)(0.1026,106.7)(0.1077,106.4)(0.1127,106.0)(0.1177,105.7)(0.1227,105.5)(0.1278,105.3)(0.133,105.3)(0.1378,105.1)(0.1428,104.9)
(0.1445,105.0)(0.1466,107.3)(0.1479,110.3)(0.1487,112.7)};
\node[txt] at (rel axis cs:0.065,0.867) {\fontsize{19}{20}\selectfont ReaxFF};
\node[txt] at (axis cs:0.117,122.53) {\fontsize{28}{28}\selectfont α};
\node[txt] at (axis cs:0.1175,110.67) {\fontsize{25}{25}\selectfont β};
\node[inner sep=0pt, anchor=west] at (axis description cs:-0.234,-0.15) {\lab{d}};
\end{axis}
\end{tikzpicture}
\end{document}
